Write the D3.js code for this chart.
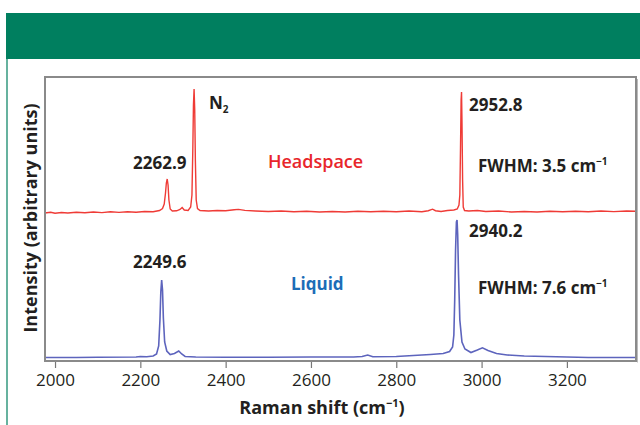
<!DOCTYPE html>
<html>
<head>
<meta charset="utf-8">
<script src="https://cdn.jsdelivr.net/npm/d3@7"></script>
<style>
  body { margin: 0; background: #fff; }
  svg { display: block; font-family: "Open Sans", "DejaVu Sans", sans-serif; }
</style>
</head>
<body>
<div id="chart"></div>
<script>
// Raman shift (cm-1) and intensity (arbitrary units, offset stack)
var liquidShift = [1976, 2050, 2100, 2190, 2200, 2215, 2230, 2238, 2243, 2246, 2248, 2250, 2252, 2254, 2257, 2262,
  2270, 2280, 2290, 2297, 2305, 2330, 2400, 2500, 2600, 2700, 2720, 2733, 2745, 2800, 2840, 2880, 2910, 2925,
  2932, 2935, 2937, 2939, 2941, 2942.5, 2944, 2946, 2949, 2954, 2961, 2975, 2990, 3002, 3015, 3035, 3060, 3100,
  3150, 3200, 3250, 3362];
var liquidInt = [35, 35, 37, 40, 45, 42, 50, 70, 150, 410, 690, 810, 710, 430, 190, 100,
  65, 75, 100, 70, 45, 40, 38, 37, 40, 40, 45, 60, 43, 45, 55, 65, 75, 95,
  140, 260, 610, 1110, 1390, 1410, 1260, 860, 410, 190, 120, 85, 110, 132, 105, 75, 60, 50,
  45, 40, 35, 35];

var headShift = [1976, 1990, 2000, 2015, 2030, 2050, 2070, 2090, 2110, 2130, 2150, 2170, 2190, 2210, 2230, 2245,
  2252, 2256, 2259, 2261, 2263, 2265, 2267, 2270, 2275, 2285, 2293, 2298, 2303, 2312, 2318, 2321, 2323, 2324.5,
  2326, 2327.5, 2329, 2331, 2334, 2340, 2360, 2380, 2400, 2420, 2430, 2445, 2470, 2500, 2530, 2560, 2590, 2620,
  2650, 2680, 2710, 2740, 2770, 2800, 2830, 2860, 2875, 2885, 2892, 2905, 2920, 2935, 2943, 2947, 2949, 2950.5,
  2952, 2953, 2954, 2955.5, 2957, 2960, 2970, 2990, 3010, 3040, 3070, 3100, 3130, 3160, 3190, 3220, 3250, 3280,
  3310, 3340, 3362];
var headInt = [1480, 1487, 1478, 1485, 1480, 1488, 1482, 1490, 1484, 1492, 1486, 1493, 1488, 1495, 1492, 1505,
  1525, 1570, 1680, 1780, 1820, 1760, 1610, 1520, 1500, 1502, 1515, 1535, 1510, 1505, 1540, 1660, 2110, 2560,
  2720, 2510, 2010, 1610, 1525, 1505, 1500, 1505, 1502, 1512, 1516, 1506, 1500, 1495, 1500, 1492, 1498, 1490,
  1495, 1490, 1497, 1492, 1498, 1492, 1500, 1492, 1503, 1518, 1503, 1495, 1505, 1510, 1520, 1560, 1660, 2110,
  2610, 2690, 2410, 1810, 1540, 1505, 1500, 1505, 1495, 1500, 1490, 1495, 1490, 1498, 1492, 1498, 1492, 1500,
  1494, 1500, 1497];

var xTicks = [2000, 2200, 2400, 2600, 2800, 3000, 3200];

// annotations: [shift, intensity, text]
var peakLabels = [
  [2183, 1920, "2262.9"],
  [2970.5, 2500, "2952.8"],
  [2183, 933, "2249.6"],
  [2970.5, 1243, "2940.2"]
];
var fwhmLabels = [
  [2991.5, 1893, "FWHM: 3.5"],
  [2991.5, 667, "FWHM: 7.6"]
];

var W = 640, H = 425;
var m = { left: 45, top: 77, right: 636, bottom: 361 };

var x = d3.scaleLinear().domain([1976.5, 3362]).range([m.left, m.right]);
var y = d3.scaleLinear().domain([0, 2840]).range([m.bottom, m.top]);

var svg = d3.select("#chart").append("svg")
  .attr("width", W).attr("height", H);

// green header band and side rule
svg.append("rect").attr("x", 6).attr("y", 13).attr("width", W - 6).attr("height", 46)
  .attr("fill", "#007f5f");
svg.append("line").attr("x1", 7).attr("x2", 7).attr("y1", 59).attr("y2", H)
  .attr("stroke", "#007f5f").attr("stroke-width", 1.2);

var line = d3.line()
  .x(function(d) { return x(d[0]); })
  .y(function(d) { return y(d[1]); });

svg.append("path")
  .datum(headShift.map(function(s, i) { return [s, headInt[i]]; }))
  .attr("d", line)
  .attr("fill", "none").attr("stroke", "#ef3b36").attr("stroke-width", 1.4);

svg.append("path")
  .datum(liquidShift.map(function(s, i) { return [s, liquidInt[i]]; }))
  .attr("d", line)
  .attr("fill", "none").attr("stroke", "#5d64bd").attr("stroke-width", 1.6);

// frame
svg.append("rect")
  .attr("x", m.left).attr("y", m.top)
  .attr("width", m.right - m.left).attr("height", m.bottom - m.top)
  .attr("fill", "none").attr("stroke", "#8a8a8a").attr("stroke-width", 2);
svg.append("line").attr("x1", m.right + 1.5).attr("x2", m.right + 1.5)
  .attr("y1", m.top + 2).attr("y2", m.bottom + 1.5)
  .attr("stroke", "#bbb").attr("stroke-width", 1);

var xAxis = d3.axisBottom(x).tickValues(xTicks).tickSize(6).tickSizeOuter(0)
  .tickFormat(d3.format("d"));

var gx = svg.append("g")
  .attr("transform", "translate(0," + (m.bottom + 1) + ")")
  .call(xAxis);
gx.select(".domain").remove();
gx.selectAll(".tick line").attr("stroke", "#777").attr("stroke-width", 1.2);
gx.selectAll(".tick text")
  .attr("y", 12)
  .style("font-family", "'Open Sans', sans-serif")
  .style("font-size", "17px")
  .attr("fill", "#231f20");

svg.append("text")
  .attr("x", 322).attr("y", 414)
  .attr("text-anchor", "middle")
  .style("font-size", "18px").style("font-weight", 700).attr("fill", "#231f20")
  .text("Raman shift (cm")
  .append("tspan").attr("dy", -7).style("font-size", "11px").text("\u22121")
  .select(function() { return this.parentNode; })
  .append("tspan").attr("dy", 7).text(")");

svg.append("text")
  .attr("transform", "translate(37,218) rotate(-90)")
  .attr("text-anchor", "middle")
  .style("font-size", "18px").style("font-weight", 700).attr("fill", "#231f20")
  .text("Intensity (arbitrary units)");

// peak labels
svg.selectAll(".peak")
  .data(peakLabels)
  .enter()
  .append("text")
  .attr("class", "peak")
  .attr("x", function(d) { return x(d[0]); })
  .attr("y", function(d) { return y(d[1]); })
  .style("font-size", "17px").style("font-weight", 700).attr("fill", "#231f20")
  .text(function(d) { return d[2]; });

var fw = svg.selectAll(".fwhm")
  .data(fwhmLabels)
  .enter()
  .append("text")
  .attr("class", "fwhm")
  .attr("x", function(d) { return x(d[0]); })
  .attr("y", function(d) { return y(d[1]); })
  .style("font-size", "17px").style("font-weight", 700).attr("fill", "#231f20");
fw.append("tspan").text(function(d) { return d[2] + " cm"; });
fw.append("tspan").attr("dy", -7).style("font-size", "10px").text("\u22121");

var n2 = svg.append("text")
  .attr("x", x(2361)).attr("y", y(2520))
  .style("font-size", "17px").style("font-weight", 700).attr("fill", "#231f20");
n2.append("tspan").text("N");
n2.append("tspan").attr("dy", 4).style("font-size", "10px").text("2");

svg.append("text")
  .attr("x", x(2499)).attr("y", y(1930))
  .style("font-size", "18px").style("font-weight", 600).attr("fill", "#e8262b")
  .text("Headspace");

svg.append("text")
  .attr("x", x(2553)).attr("y", y(710))
  .style("font-size", "17px").style("font-weight", 700).attr("fill", "#1c6db7")
  .text("Liquid");
</script>
</body>
</html>
